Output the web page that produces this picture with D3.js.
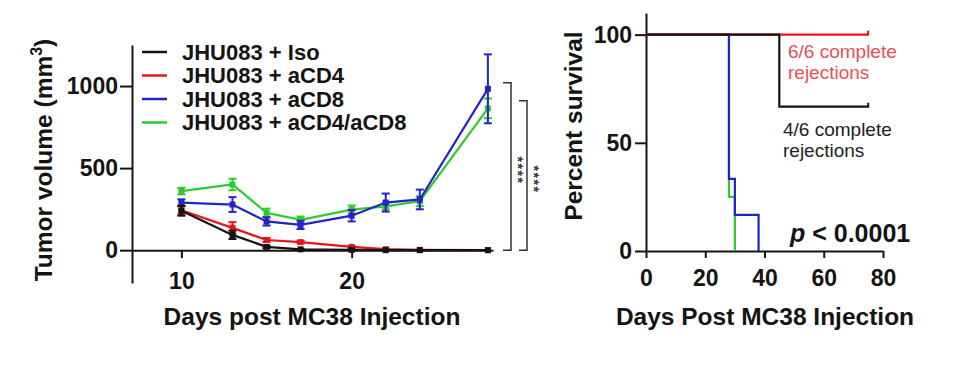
<!DOCTYPE html>
<html>
<head>
<meta charset="utf-8">
<script src="https://cdn.jsdelivr.net/npm/d3@7"></script>
<style>
body { margin: 0; background: #fff; }
svg text { font-family: "Liberation Sans", Arial, sans-serif; }
</style>
</head>
<body>
<svg id="chart" width="972" height="372"></svg>
<script>
// tumour growth (mean +/- sem)
const days = [10, 13, 15, 17, 20, 22, 24, 28];
const isoMean = [240, 93, 20, 5, 2, 0, 0, 0];
const isoErr = [30, 25, 8, 3, 2, 0, 0, 0];
const cd4Mean = [243, 136, 62, 49, 20, 6, 2, 0];
const cd4Err = [25, 35, 12, 8, 6, 3, 0, 0];
const cd8Mean = [290, 278, 175, 154, 210, 290, 309, 983];
const cd8Err = [20, 45, 25, 25, 35, 55, 60, 210];
const cd48Mean = [360, 400, 228, 185, 247, 267, 298, 864];
const cd48Err = [20, 35, 25, 20, 25, 20, 30, 60];
const groupNames = ['JHU083 + Iso', 'JHU083 + aCD4', 'JHU083 + aCD8', 'JHU083 + aCD4/aCD8'];
const volumeTicks = [0, 500, 1000];
const dayTicks = [10, 20];

// survival (Kaplan-Meier steps: [day, percent])
const survIso = [[0, 100], [45, 66.7], [75, 66.7]];
const survCd4 = [[0, 100], [75, 100]];
const survCd8 = [[0, 100], [28, 33.3], [30, 16.7], [38, 0]];
const survCd48 = [[0, 100], [28, 25], [30, 0]];
const survivalTicks = [0, 50, 100];
const survDayTicks = [0, 20, 40, 60, 80];

const colors = ['#141414', '#e8161c', '#2323c8', '#2ecb2e'];
const ink = '#141414';

const svg = d3.select('#chart');

function styleAxis(g, size) {
	g.select('.domain').attr('stroke', ink).attr('stroke-width', 2);
	g.selectAll('.tick line').attr('stroke', ink).attr('stroke-width', 2);
	g.selectAll('.tick text')
		.attr('fill', ink)
		.attr('font-size', size)
		.attr('font-weight', 'bold');
}

// ---------- left panel: tumour volume ----------
const x = d3.scaleLinear().domain([7.1, 28.3]).range([132, 493]);
const y = d3.scaleLinear().domain([-200, 1250]).range([283, 45]);

svg.append('g')
	.attr('transform', 'translate(132,0)')
	.call(d3.axisLeft(y).tickValues(volumeTicks).tickFormat(d3.format('d'))
		.tickSize(12).tickPadding(2).tickSizeOuter(0))
	.call(g => styleAxis(g, 23));

svg.append('g')
	.attr('transform', 'translate(0,' + y(0) + ')')
	.call(d3.axisBottom(x).tickValues(dayTicks).tickSize(8).tickPadding(14).tickSizeOuter(0))
	.call(g => styleAxis(g, 23));

const series = [
	{ name: groupNames[0], mean: isoMean, err: isoErr, color: colors[0] },
	{ name: groupNames[1], mean: cd4Mean, err: cd4Err, color: colors[1] },
	{ name: groupNames[2], mean: cd8Mean, err: cd8Err, color: colors[2] },
	{ name: groupNames[3], mean: cd48Mean, err: cd48Err, color: colors[3] }
];
const drawOrder = [3, 2, 1, 0];

const line = d3.line()
	.x(d => x(d.day))
	.y(d => y(d.v));

drawOrder.forEach(i => {
	const s = series[i];
	const pts = days.map((d, j) => ({ day: d, v: s.mean[j], e: s.err[j] }));
	const g = svg.append('g');

	g.append('path')
		.datum(pts)
		.attr('fill', 'none')
		.attr('stroke', s.color)
		.attr('stroke-width', 2.2)
		.attr('d', line);

	const bars = g.selectAll('.err')
		.data(pts.filter(p => p.e > 0))
		.enter()
		.append('g')
		.attr('stroke', s.color)
		.attr('stroke-width', 2);
	bars.append('line')
		.attr('x1', p => x(p.day)).attr('x2', p => x(p.day))
		.attr('y1', p => y(p.v - p.e)).attr('y2', p => y(p.v + p.e));
	bars.append('line')
		.attr('x1', p => x(p.day) - 4).attr('x2', p => x(p.day) + 4)
		.attr('y1', p => y(p.v + p.e)).attr('y2', p => y(p.v + p.e));
	bars.append('line')
		.attr('x1', p => x(p.day) - 4).attr('x2', p => x(p.day) + 4)
		.attr('y1', p => y(p.v - p.e)).attr('y2', p => y(p.v - p.e));

	g.selectAll('.pt')
		.data(pts)
		.enter()
		.append('rect')
		.attr('x', p => x(p.day) - 3)
		.attr('y', p => y(p.v) - 3)
		.attr('width', 6)
		.attr('height', 6)
		.attr('fill', s.color);
});

// legend
const legend = svg.append('g').attr('transform', 'translate(142,52)');
series.forEach((s, i) => {
	const row = legend.append('g').attr('transform', 'translate(0,' + i * 23.5 + ')');
	row.append('line')
		.attr('x1', 0).attr('x2', 25)
		.attr('stroke', s.color).attr('stroke-width', 2.5);
	row.append('text')
		.attr('x', 40).attr('dy', '0.36em')
		.attr('font-size', 22).attr('font-weight', 'bold').attr('fill', ink)
		.text(s.name);
});

// significance brackets
const brackets = [
	{ x0: 503, top: 1020, label: '****' },
	{ x0: 519, top: 910, label: '****' }
];
brackets.forEach(b => {
	svg.append('path')
		.attr('d', 'M' + b.x0 + ',' + y(b.top) + 'H' + (b.x0 + 8) + 'V' + y(0) + 'H' + b.x0)
		.attr('fill', 'none').attr('stroke', '#333').attr('stroke-width', 1.5);
	const ty = (y(b.top) + y(0)) / 2 + 4;
	svg.append('text')
		.attr('transform', 'translate(' + (b.x0 + 10) + ',' + ty + ') rotate(90)')
		.attr('text-anchor', 'middle')
		.attr('font-size', 14).attr('font-weight', 'bold').attr('fill', '#333')
		.attr('letter-spacing', 1.5)
		.text(b.label);
});

// titles
svg.append('text')
	.attr('x', 312).attr('y', 325)
	.attr('text-anchor', 'middle')
	.attr('font-size', 24.5).attr('font-weight', 'bold').attr('fill', ink)
	.text('Days post MC38 Injection');

const yTitle = svg.append('text')
	.attr('transform', 'translate(52,160) rotate(-90)')
	.attr('text-anchor', 'middle')
	.attr('font-size', 24.5).attr('font-weight', 'bold').attr('fill', ink);
yTitle.append('tspan').text('Tumor volume (mm');
yTitle.append('tspan').attr('font-size', 16).attr('dy', -10).text('3');
yTitle.append('tspan').attr('dy', 10).text(')');

// ---------- right panel: survival ----------
const xs = d3.scaleLinear().domain([0, 80]).range([646, 883]);
const ys = d3.scaleLinear().domain([0, 110]).range([251, 13]);

svg.append('g')
	.attr('transform', 'translate(646,0)')
	.call(d3.axisLeft(ys).tickValues(survivalTicks).tickSize(11).tickPadding(3).tickSizeOuter(0))
	.call(g => styleAxis(g, 23));

svg.append('g')
	.attr('transform', 'translate(0,' + ys(0) + ')')
	.call(d3.axisBottom(xs).tickValues(survDayTicks).tickSize(7).tickPadding(12).tickSizeOuter(0))
	.call(g => styleAxis(g, 23));

const step = d3.line()
	.x(d => xs(d[0]))
	.y(d => ys(d[1]))
	.curve(d3.curveStepAfter);

const survSeries = [
	{ data: survCd48, color: colors[3] },
	{ data: survCd8, color: colors[2] },
	{ data: survCd4, color: colors[1] },
	{ data: survIso, color: colors[0] }
];
survSeries.forEach(s => {
	svg.append('path')
		.datum(s.data)
		.attr('fill', 'none')
		.attr('stroke', s.color)
		.attr('stroke-width', 2.2)
		.attr('d', step);
});

// censor ticks at the end of surviving groups
[survCd4, survIso].forEach((d, i) => {
	const last = d[d.length - 1];
	svg.append('line')
		.attr('x1', xs(last[0])).attr('x2', xs(last[0]))
		.attr('y1', ys(last[1]) - 4).attr('y2', ys(last[1]) + 1)
		.attr('stroke', i === 0 ? colors[1] : colors[0]).attr('stroke-width', 2);
});

// annotations
const noteRed = svg.append('text')
	.attr('font-size', 19).attr('fill', '#e8505a');
noteRed.append('tspan').attr('x', 788).attr('y', 58).text('6/6 complete');
noteRed.append('tspan').attr('x', 788).attr('y', 79).text('rejections');

const noteBlack = svg.append('text')
	.attr('font-size', 19).attr('fill', '#222');
noteBlack.append('tspan').attr('x', 783).attr('y', 136).text('4/6 complete');
noteBlack.append('tspan').attr('x', 783).attr('y', 157).text('rejections');

const pText = svg.append('text')
	.attr('x', 790).attr('y', 242)
	.attr('font-size', 25).attr('font-weight', 'bold').attr('fill', ink);
pText.append('tspan').attr('font-style', 'italic').text('p');
pText.append('tspan').text(' < 0.0001');

svg.append('text')
	.attr('x', 765).attr('y', 325)
	.attr('text-anchor', 'middle')
	.attr('font-size', 24.5).attr('font-weight', 'bold').attr('fill', ink)
	.text('Days Post MC38 Injection');

svg.append('text')
	.attr('transform', 'translate(582,126) rotate(-90)')
	.attr('text-anchor', 'middle')
	.attr('font-size', 24.5).attr('font-weight', 'bold').attr('fill', ink)
	.text('Percent survival');
</script>
</body>
</html>
